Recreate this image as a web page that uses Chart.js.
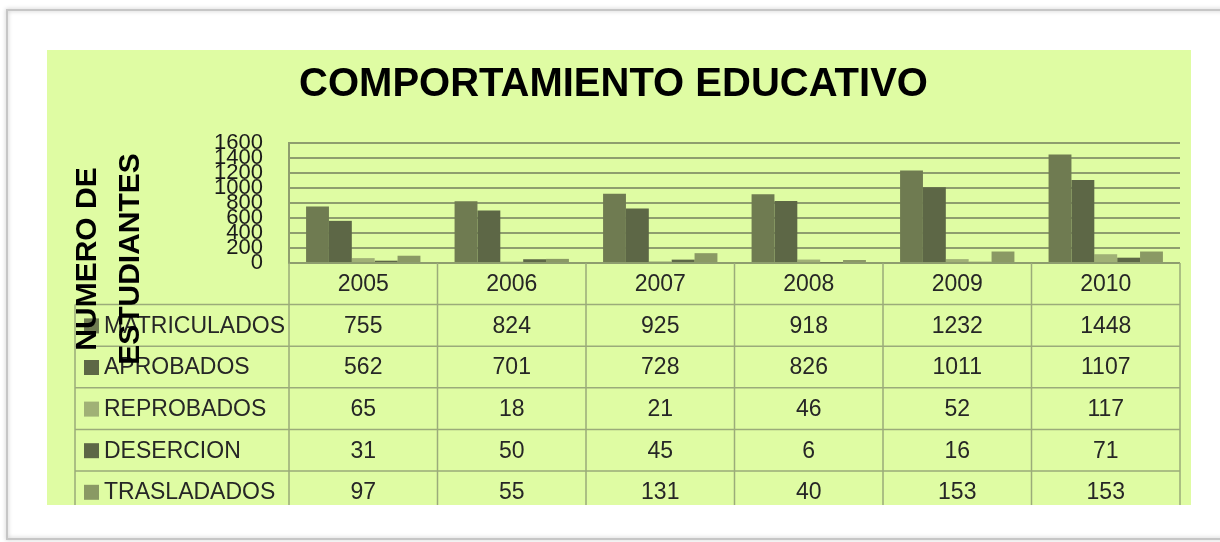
<!DOCTYPE html>
<html>
<head>
<meta charset="utf-8">
<title>Comportamiento educativo</title>
<script src="https://cdn.jsdelivr.net/npm/chart.js@4/dist/chart.umd.min.js"></script>
<style>
  html, body { margin: 0; padding: 0; background: #ffffff; }
  #chart { display: block; }
</style>
</head>
<body>
<canvas id="chart" width="1220" height="542"></canvas>
<script>
// Data
const years = ['2005', '2006', '2007', '2008', '2009', '2010'];
const matriculados = [755, 824, 925, 918, 1232, 1448];
const aprobados = [562, 701, 728, 826, 1011, 1107];
const reprobados = [65, 18, 21, 46, 52, 117];
const desercion = [31, 50, 45, 6, 16, 71];
const trasladados = [97, 55, 131, 40, 153, 153];
const seriesNames = ['MATRICULADOS', 'APROBADOS', 'REPROBADOS', 'DESERCION', 'TRASLADADOS'];
const yMin = 0;
const yMax = 1600;
const yStep = 200;

const FONT = '"Liberation Sans", Arial, sans-serif';
const GREEN = '#dffca3';
const GRID = '#8e9d6e';
const TABLE_LINE = '#9bab7a';
const colors = ['#6f7b51', '#5d6746', '#a0b176', '#5d6746', '#8a9964'];

// White page with a frame and the green chart area
const backdrop = {
  id: 'backdrop',
  beforeDraw(chart) {
    const ctx = chart.ctx;
    ctx.save();
    ctx.fillStyle = '#ffffff';
    ctx.fillRect(0, 0, chart.width, chart.height);
    ctx.shadowColor = 'rgba(0,0,0,0.25)';
    ctx.shadowBlur = 4;
    ctx.strokeStyle = '#c6c6c6';
    ctx.lineWidth = 2;
    ctx.strokeRect(7, 10, 1260, 529);
    ctx.shadowBlur = 0;
    ctx.fillStyle = GREEN;
    ctx.fillRect(47, 50, 1144, 455);
    ctx.restore();
  }
};

// Data table under the plot, columns taken from the x scale
const dataTable = {
  id: 'dataTable',
  afterDraw(chart) {
    const ctx = chart.ctx;
    const x = chart.scales.x;
    const area = chart.chartArea;
    const step = x.getPixelForValue(1) - x.getPixelForValue(0);
    const top = area.bottom;
    const rowH = 41.6;
    const tableLeft = 75;
    const bottom = 505;
    const rows = [matriculados, aprobados, reprobados, desercion, trasladados];

    ctx.save();
    ctx.beginPath();
    ctx.rect(47, 50, 1144, 455);
    ctx.clip();

    ctx.strokeStyle = TABLE_LINE;
    ctx.lineWidth = 1.5;
    ctx.beginPath();
    for (let r = 1; r <= rows.length + 1; r++) {
      const y = top + r * rowH;
      ctx.moveTo(tableLeft, y);
      ctx.lineTo(area.right, y);
    }
    ctx.moveTo(tableLeft, top + rowH);
    ctx.lineTo(tableLeft, bottom);
    for (let i = 0; i <= years.length; i++) {
      const cx = x.getPixelForValue(0) - step / 2 + i * step;
      ctx.moveTo(cx, top);
      ctx.lineTo(cx, bottom);
    }
    ctx.stroke();

    ctx.fillStyle = '#262626';
    ctx.font = '23px ' + FONT;
    ctx.textAlign = 'center';
    ctx.textBaseline = 'middle';
    years.forEach((yr, i) => {
      ctx.fillText(yr, x.getPixelForValue(i), top + rowH / 2 + 1);
    });

    rows.forEach((vals, r) => {
      const cy = top + rowH * (r + 1) + rowH / 2 + 1;
      ctx.fillStyle = colors[r];
      ctx.fillRect(84, cy - 8, 15, 15);
      ctx.fillStyle = '#262626';
      ctx.textAlign = 'left';
      ctx.fillText(seriesNames[r], 104, cy);
      ctx.textAlign = 'center';
      vals.forEach((v, i) => {
        ctx.fillText(String(v), x.getPixelForValue(i), cy);
      });
    });

    // axis title, drawn on top of the table like the original
    ctx.fillStyle = '#000000';
    ctx.font = 'bold 30px ' + FONT;
    ctx.textAlign = 'center';
    ctx.textBaseline = 'middle';
    [['NUMERO DE', 88], ['ESTUDIANTES', 131]].forEach(([txt, tx]) => {
      ctx.save();
      ctx.translate(tx, 259);
      ctx.rotate(-Math.PI / 2);
      ctx.fillText(txt, 0, 0);
      ctx.restore();
    });
    ctx.restore();
  }
};

const datasets = [matriculados, aprobados, reprobados, desercion, trasladados].map((vals, i) => ({
  label: seriesNames[i],
  data: vals,
  backgroundColor: colors[i],
  borderWidth: 0,
  categoryPercentage: 0.77,
  barPercentage: 1.0
}));

new Chart(document.getElementById('chart'), {
  type: 'bar',
  data: { labels: years, datasets: datasets },
  options: {
    responsive: false,
    animation: false,
    layout: { padding: { left: 47, right: 40, top: 50, bottom: 279 } },
    plugins: {
      legend: { display: false },
      tooltip: { enabled: false },
      title: {
        display: true,
        text: 'COMPORTAMIENTO EDUCATIVO',
        color: '#000000',
        font: { family: FONT, size: 40, weight: 'bold' },
        padding: { top: 11, bottom: 34 }
      }
    },
    scales: {
      x: {
        grid: { display: false },
        border: { display: false },
        ticks: { display: false },
        afterFit: s => { s.height = 0; }
      },
      y: {
        min: yMin,
        max: yMax,
        ticks: {
          stepSize: yStep,
          autoSkip: false,
          padding: 26,
          color: '#1a1a1a',
          font: { family: FONT, size: 22 },
          callback: v => String(v)
        },
        grid: { color: GRID, lineWidth: 2, drawTicks: false },
        border: { display: true, color: GRID, width: 2 },
        afterFit: s => { s.width = 242; }
      }
    }
  },
  plugins: [backdrop, dataTable]
});
</script>
</body>
</html>
